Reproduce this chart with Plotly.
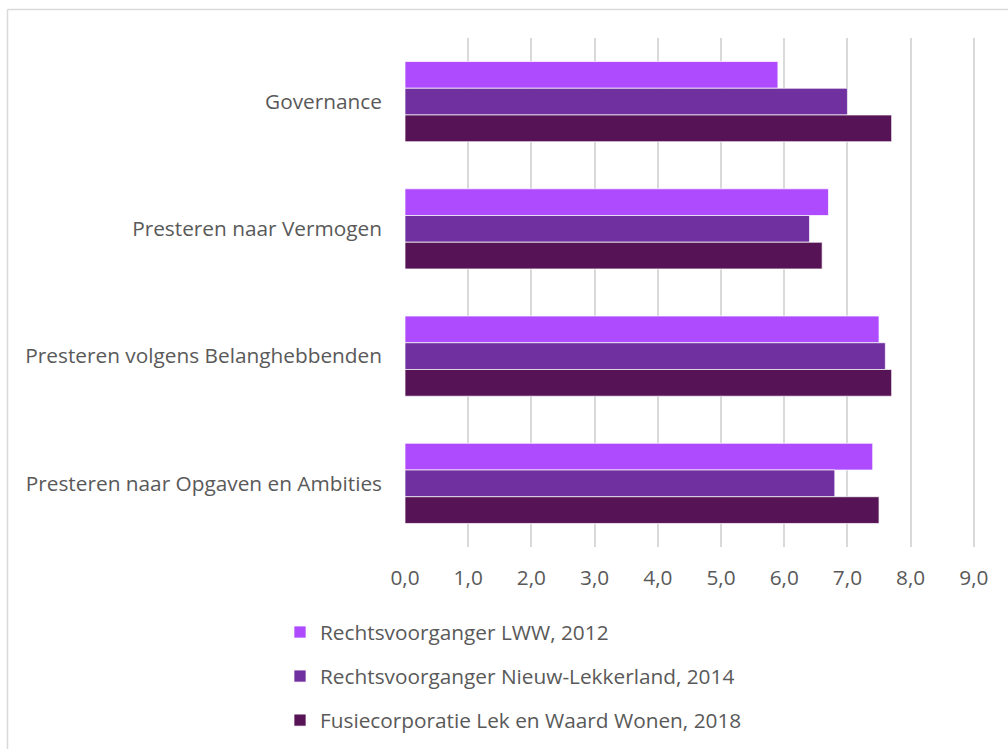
import plotly.graph_objects as go

categories = ["Governance", "Presteren naar Vermogen", "Presteren volgens Belanghebbenden",
              "Presteren naar Opgaven en Ambities"]
series_names = ["Rechtsvoorganger LWW, 2012", "Rechtsvoorganger Nieuw-Lekkerland, 2014",
                "Fusiecorporatie Lek en Waard Wonen, 2018"]
lww_2012 = [5.9, 6.7, 7.5, 7.4]
nl_2014 = [7.0, 6.4, 7.6, 6.8]
fusie_2018 = [7.7, 6.6, 7.7, 7.5]
x_ticks = [0, 1, 2, 3, 4, 5, 6, 7, 8, 9]

colors = ["#AE4BFF", "#7030A0", "#561456"]
values = [lww_2012, nl_2014, fusie_2018]

W, H = 1008, 749
L, R, T, B = 405, 31, 38, 202
pw, ph = W - L - R, H - T - B

fig = go.Figure()
for name, vals, col in zip(series_names, values, colors):
    fig.add_trace(go.Bar(
        y=categories, x=vals, name=name, orientation="h",
        marker=dict(color=col, line=dict(color="rgba(255,255,255,0.7)", width=1)),
        legendgroup=name,
    ))

font = "'Open Sans', 'Noto Sans', sans-serif"
FS = 20.8
fig.update_layout(
    width=W, height=H,
    margin=dict(l=L, r=R, t=T, b=B, autoexpand=False),
    paper_bgcolor="white", plot_bgcolor="white",
    barmode="group", bargap=0.37, bargroupgap=0,
    separators=",.",
    font=dict(family=font, size=FS, color="#595959"),
    xaxis=dict(range=[0, 9.05], tickvals=x_ticks, tickformat=".1f",
               showgrid=True, gridcolor="#D9D9D9", gridwidth=1.5,
               zeroline=False, showline=False, ticks="",
               ticklabelstandoff=16, tickfont=dict(size=FS, color="#595959")),
    yaxis=dict(autorange="reversed", showgrid=False, zeroline=False, showline=False,
               ticks="", ticklabelstandoff=22, tickfont=dict(size=FS, color="#595959")),
    legend=dict(orientation="v", x=(280 - L) / pw, xanchor="left",
                y=(547 - 612) / ph, yanchor="top",
                traceorder="grouped", tracegroupgap=14, itemwidth=30,
                font=dict(size=FS, color="#595959"), bgcolor="rgba(0,0,0,0)"),
    shapes=[
        dict(type="line", xref="paper", yref="paper",
             x0=(7.5 - L) / pw, x1=(W + 5 - L) / pw,
             y0=(H - B - 9.5) / ph, y1=(H - B - 9.5) / ph,
             line=dict(color="#D9D9D9", width=1.5)),
        dict(type="line", xref="paper", yref="paper",
             x0=(7.5 - L) / pw, x1=(7.5 - L) / pw,
             y0=(H - B - 9.5) / ph, y1=(H - B - H - 5) / ph,
             line=dict(color="#D9D9D9", width=1.5)),
    ],
)

fig.write_html("out.html")
